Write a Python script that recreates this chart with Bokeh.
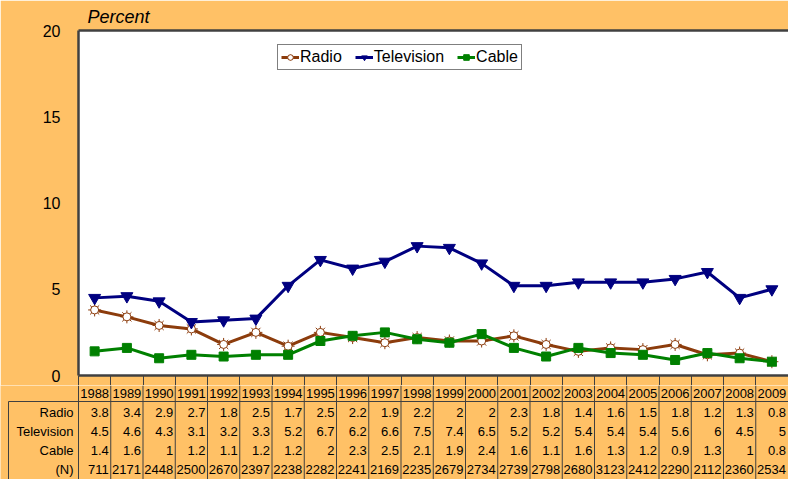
from bokeh.plotting import figure
from bokeh.models import Range1d, FixedTicker, Legend, LegendItem, ColumnDataSource, LinearAxis
from bokeh.layouts import column
from bokeh.embed import file_html
from bokeh.resources import INLINE
from bokeh.core.properties import value

# ---------------- data ----------------
years = list(range(1988, 2010))
radio = [3.8, 3.4, 2.9, 2.7, 1.8, 2.5, 1.7, 2.5, 2.2, 1.9, 2.2, 2, 2, 2.3, 1.8, 1.4, 1.6, 1.5, 1.8, 1.2, 1.3, 0.8]
television = [4.5, 4.6, 4.3, 3.1, 3.2, 3.3, 5.2, 6.7, 6.2, 6.6, 7.5, 7.4, 6.5, 5.2, 5.2, 5.4, 5.4, 5.4, 5.6, 6, 4.5, 5]
cable = [1.4, 1.6, 1, 1.2, 1.1, 1.2, 1.2, 2, 2.3, 2.5, 2.1, 1.9, 2.4, 1.6, 1.1, 1.6, 1.3, 1.2, 0.9, 1.3, 1, 0.8]
n_resp = [711, 2171, 2448, 2500, 2670, 2397, 2238, 2282, 2241, 2169, 2235, 2679, 2734, 2739, 2798, 2680, 3123, 2412, 2290, 2112, 2360, 2534]
y_ticks = [0, 5, 10, 15, 20]
row_labels = ["Radio", "Television", "Cable", "(N)"]

# ---------------- style ----------------
BG = "#FFC166"
BORDER = "#404040"
BROWN = "#8C3C0C"
NAVY = "#000080"
GREEN = "#008000"
FONT = "Liberation Sans"

W = 788
H_TOP = 385
GAP = 10            # bottom border of the chart (start of the column separators)
PX = 32.25          # pixels per year column
LEFT = 78           # label column width
x0 = years[0] - 0.5
x1 = x0 + (W - LEFT) / PX
seps = [y - 0.5 for y in years]


def hide_labels(ax):
    ax.major_label_standoff = 0
    ax.major_label_text_font_size = "0px"
    ax.major_label_text_color = None


# ---------------- main chart ----------------
p = figure(width=W, height=H_TOP, x_range=Range1d(x0, x1), y_range=Range1d(0, 20),
           output_backend="svg", toolbar_location=None,
           min_border_left=LEFT, min_border_right=0, min_border_top=30, min_border_bottom=GAP,
           background_fill_color="white", border_fill_color=BG, outline_line_color=None)
p.frame_align = False
p.xgrid.visible = False
p.ygrid.visible = False

# bottom axis: plot border + top part of the column separators
xa = p.xaxis[0]
xa.ticker = FixedTicker(ticks=seps)
xa.axis_line_color = BORDER
xa.axis_line_width = 2.5
xa.major_tick_line_color = BORDER
xa.major_tick_line_width = 1
xa.major_tick_out = GAP
xa.major_tick_in = 0
xa.minor_tick_line_color = None
hide_labels(xa)

# top axis: upper plot border
top_axis = LinearAxis(ticker=FixedTicker(ticks=[]))
top_axis.axis_line_color = BORDER
top_axis.axis_line_width = 2.5
top_axis.major_tick_line_color = None
top_axis.minor_tick_line_color = None
top_axis.major_tick_out = 0
top_axis.major_tick_in = 0
hide_labels(top_axis)
p.add_layout(top_axis, "above")

p.yaxis.ticker = FixedTicker(ticks=y_ticks)
p.yaxis.axis_line_color = BORDER
p.yaxis.axis_line_width = 2.5
p.yaxis.major_tick_line_color = None
p.yaxis.minor_tick_line_color = None
p.yaxis.major_tick_out = 0
p.yaxis.major_label_standoff = 18
p.yaxis.major_label_text_font = FONT
p.yaxis.major_label_text_font_size = "16px"
p.yaxis.major_label_text_color = "black"

p.title.text = "Percent"
p.title.text_font = FONT
p.title.text_font_style = "italic"
p.title.text_font_size = "18px"
p.title.text_color = "black"
p.title.align = "left"
p.title.offset = 9
p.title.standoff = 7

src = ColumnDataSource(dict(x=years, radio=radio, tv=television, cable=cable))

r_line = p.line("x", "radio", source=src, line_color=BROWN, line_width=3)
r_ast = p.scatter("x", "radio", source=src, marker="asterisk", size=13, line_color=BROWN, line_width=1)
r_cir = p.scatter("x", "radio", source=src, marker="circle", size=8, fill_color="white",
                  line_color=BROWN, line_width=1)

t_line = p.line("x", "tv", source=src, line_color=NAVY, line_width=3)
t_mk = p.scatter("x", "tv", source=src, marker="inverted_triangle", size=12, fill_color=NAVY, line_color=NAVY)

c_line = p.line("x", "cable", source=src, line_color=GREEN, line_width=3)
c_mk = p.scatter("x", "cable", source=src, marker="square", size=9, fill_color=GREEN, line_color=GREEN)

legend = Legend(items=[
    LegendItem(label="Radio", renderers=[r_line, r_ast, r_cir]),
    LegendItem(label="Television", renderers=[t_line, t_mk]),
    LegendItem(label="Cable", renderers=[c_line, c_mk]),
], location=(199, 305), orientation="horizontal")
legend.border_line_color = "black"
legend.border_line_width = 1
legend.background_fill_color = "white"
legend.background_fill_alpha = 1
legend.label_text_font = FONT
legend.label_text_font_size = "16px"
legend.label_text_color = "black"
legend.glyph_width = 18
legend.glyph_height = 14
legend.label_standoff = 1
legend.spacing = 13
legend.padding = 3
legend.margin = 0
legend.label_height = 15
p.add_layout(legend)

# ---------------- data table ----------------
TH = 479 - H_TOP
t = figure(width=W, height=TH, x_range=Range1d(x0 - LEFT / PX, x1), y_range=Range1d(TH, 0),
           output_backend="svg", toolbar_location=None, x_axis_location=None, y_axis_location=None,
           min_border=0, min_border_left=0, min_border_right=0, min_border_top=0, min_border_bottom=0,
           background_fill_color=BG, border_fill_color=BG, outline_line_color=None)
t.frame_align = False
t.xgrid.visible = False
t.ygrid.visible = False

YEAR_Y = 8
HEAD_Y = 16
ROW_Y = [27, 46, 65, 84]
left_edge = x0 - (LEFT - 8) / PX

# separators between year columns
t.segment(x0=seps, y0=[0] * len(seps), x1=seps, y1=[TH] * len(seps), line_color=BORDER, line_width=1)
# label column border and header line
t.segment(x0=[left_edge], y0=[HEAD_Y], x1=[left_edge], y1=[TH], line_color=BORDER, line_width=1)
t.segment(x0=[left_edge], y0=[HEAD_Y], x1=[x1], y1=[HEAD_Y], line_color=BORDER, line_width=1)

t.text(x=years, y=[YEAR_Y] * len(years), text=[str(y) for y in years],
       text_align="center", text_baseline="middle", text_font=value(FONT),
       text_font_size="13px", text_color="black")

t.text(x=[x0 - 5 / PX] * len(row_labels), y=ROW_Y, text=row_labels,
       text_align="right", text_baseline="middle", text_font=value(FONT),
       text_font_size="13px", text_color="black")

for series, ry in zip([radio, television, cable, n_resp], ROW_Y):
    t.text(x=[y + 0.5 - 2 / PX for y in years], y=[ry] * len(years),
           text=[f"{v:g}" for v in series],
           text_align="right", text_baseline="middle", text_font=value(FONT),
           text_font_size="13px", text_color="black")

layout = column(p, t, spacing=0)
open("out.html", "w").write(file_html(layout, INLINE))
